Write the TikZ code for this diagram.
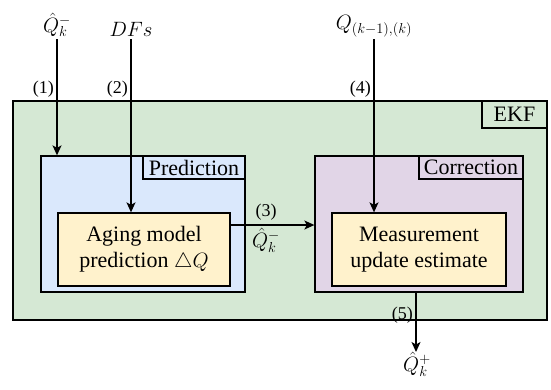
\documentclass[tikz,border=0pt]{standalone}
\usepackage{fontspec}
\setmainfont{Liberation Serif}
\usetikzlibrary{arrows.meta}
\definecolor{ekfgreen}{HTML}{D5E8D4}
\definecolor{predblue}{HTML}{DAE8FC}
\definecolor{corrpurple}{HTML}{E1D5E7}
\definecolor{inneryellow}{HTML}{FFF2CC}
\tikzset{
  box/.style={draw=black, line width=1.3pt, rectangle, inner sep=0pt, align=center, font=\fontsize{22}{26}\selectfont},
  tag/.style={box, font=\fontsize{22}{24}\selectfont},
  lab/.style={font=\fontsize{18}{20}\selectfont, inner sep=2pt},
  mlab/.style={font=\fontsize{22.5}{26}\selectfont, inner sep=2pt},
  flow/.style={line width=1.3pt, -{Stealth[length=10pt,width=9pt,inset=2.5pt]}},
}
\begin{document}
\begin{tikzpicture}[x=1pt,y=-1pt]
\useasboundingbox (0,0) rectangle (551,389);
% containers
\node[box, fill=ekfgreen, minimum width=534pt, minimum height=219pt] (ekf) at (280,210.5) {};
\node[tag, fill=ekfgreen, minimum width=65pt, minimum height=27pt] (ekflab) at (514.5,114.5) {EKF};
\node[box, fill=predblue, minimum width=204pt, minimum height=136pt] (pred) at (143,224) {};
\node[tag, fill=predblue, minimum width=102pt, minimum height=23pt] (predlab) at (194,167.5) {Prediction};
\node[box, fill=corrpurple, minimum width=208pt, minimum height=136pt] (corr) at (419,224) {};
\node[tag, fill=corrpurple, minimum width=104pt, minimum height=23pt] (corrlab) at (471,167.5) {Correction};
\node[box, fill=inneryellow, minimum width=172pt, minimum height=73pt] (aging) at (144,249.5) {Aging model\\prediction $\triangle Q$};
\node[box, fill=inneryellow, minimum width=174pt, minimum height=73pt] (meas) at (419,249.5) {Measurement\\update estimate};
% inputs
\node[mlab, anchor=south] (qin) at (57,39) {${\hat{Q}}_k^-$};
\node[mlab, anchor=south] (dfs) at (131,39) {$DFs$};
\node[mlab, anchor=south] (qm) at (374,39) {$Q_{(k-1),(k)}$};
\coordinate (a3) at (0,225);
\coordinate (outp) at (416,352);
\node[mlab, anchor=north] (qout) at (417,350) {${\hat{Q}}_k^+$};
% connectors
\draw[flow] (qin.south) -- (qin.south |- pred.north);
\draw[flow] (dfs.south) -- (dfs.south |- aging.north);
\draw[flow] (qm.south) -- (qm.south |- meas.north);
\draw[flow] (aging.east |- a3) -- (corr.west |- a3);
\draw[flow] (outp |- corr.south) -- (outp);
% labels
\node[lab, anchor=south east] (l1) at (56,100) {(1)};
\node[lab, anchor=south east] (l2) at (130,100) {(2)};
\node[lab, anchor=south east] (l4) at (373,100) {(4)};
\node[lab, anchor=south] (l3) at (266,223) {(3)};
\node[mlab, anchor=north] (q3) at (266,226) {${\hat{Q}}_k^-$};
\node[lab, anchor=east] (l5) at (415,315) {(5)};
\end{tikzpicture}
\end{document}
